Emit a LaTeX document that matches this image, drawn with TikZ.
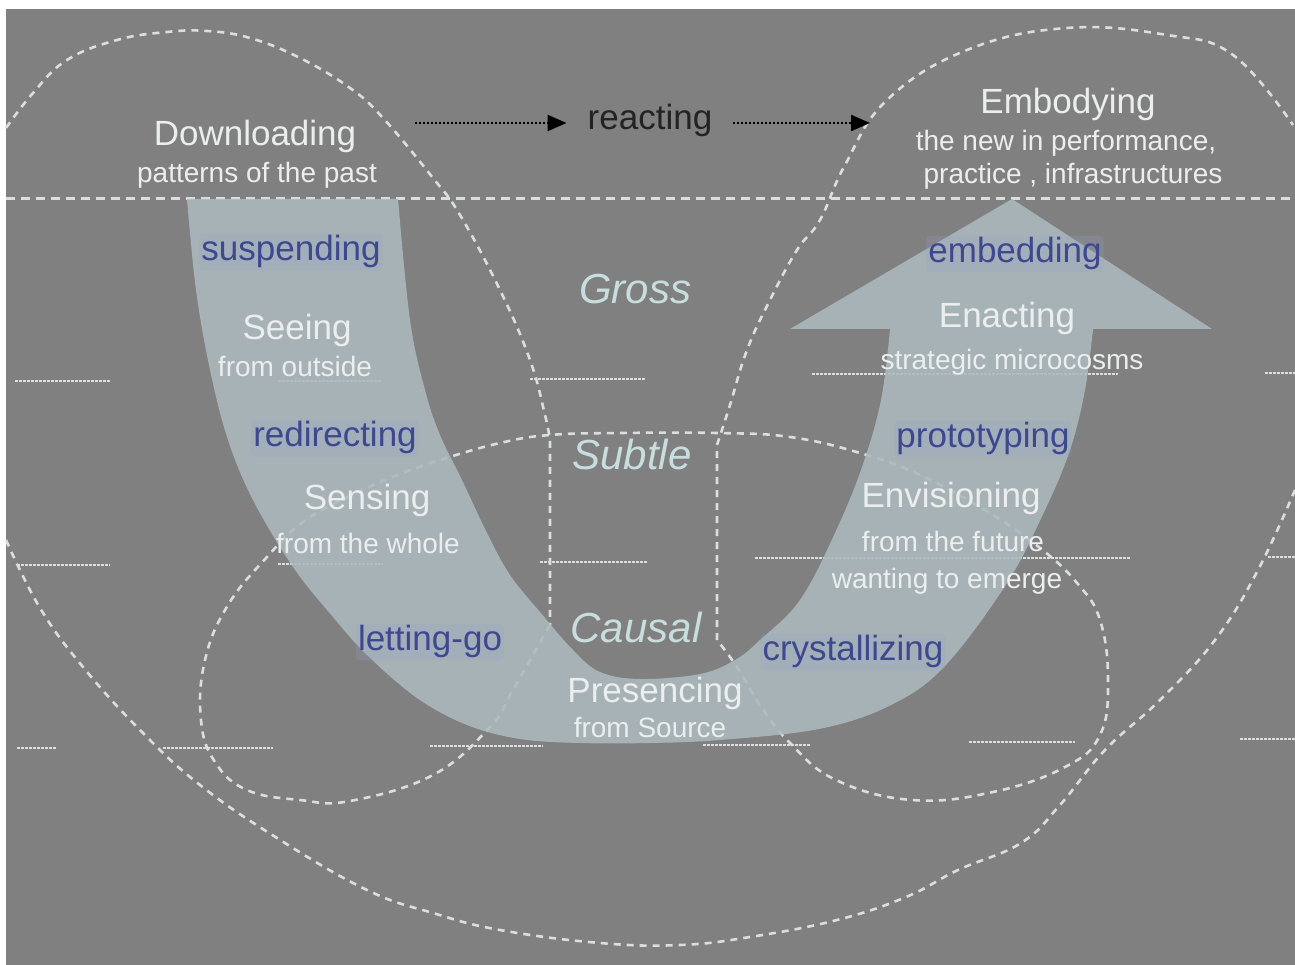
\documentclass[tikz,border=0pt]{standalone}
\usepackage{fontspec}
\setmainfont{Liberation Sans}
\usetikzlibrary{arrows.meta}
\definecolor{bg}{RGB}{128,128,128}
\definecolor{bandfill}{RGB}{172,186,189}
\definecolor{dashline}{RGB}{218,222,222}
\definecolor{lab}{RGB}{236,238,238}
\definecolor{verbtext}{RGB}{62,72,142}
\definecolor{verbglow}{RGB}{150,162,200}
\definecolor{leveltext}{RGB}{200,222,222}
\definecolor{reacttext}{RGB}{35,35,35}

\begin{document}
\begin{tikzpicture}[x=1pt,y=-1pt,
  every node/.style={inner sep=0pt},
  txt/.style={yshift=-4pt},
  stage/.style={txt, font=\fontsize{35}{38}\selectfont, text=lab,
    text height=25pt, text depth=7.5pt},
  sub/.style={txt, font=\fontsize{28}{30}\selectfont, text=lab,
    text height=20pt, text depth=6pt},
  verb/.style={txt, font=\fontsize{35}{38}\selectfont, text=verbtext,
    text height=25pt, text depth=7.5pt, rounded corners=4pt,
    fill=verbglow, fill opacity=0.22, text opacity=1, inner sep=2pt},
  level/.style={txt, font=\fontsize{42}{46}\selectfont\itshape, text=leveltext,
    text height=30pt, text depth=9pt},
  outline/.style={draw=dashline, line width=2.6pt, dash pattern=on 7pt off 6pt},
  rule/.style={draw=dashline, line width=1.6pt, dash pattern=on 2.5pt off 1.5pt},
  flow/.style={draw=black, line width=2.4pt, dash pattern=on 2pt off 2pt,
    -{Triangle[length=19pt,width=16pt]}},
]
% canvas
\fill[white] (0,0) rectangle (1295,965);
\fill[bg] (6,9) rectangle (1295,965);
\useasboundingbox (0,0) rectangle (1295,965);

% boundary between the upper field and the U
\draw[outline, line width=3pt, dash pattern=on 9pt off 6pt] (6,199) -- (1295,199);

% dashed outlines of the fields
\draw[outline] plot[smooth, tension=0.7] coordinates {(6,128) (33,93) (67,60) (117,40)
  (167,32) (207,31) (250,38) (300,58) (350,88) (383,118) (433,178) (460,215)
  (500,290) (530,360) (545,415) (550,440)} -- (550,625);
\draw[outline] plot[smooth, tension=0.7] coordinates {(550,625) (530,660) (510,695)
  (490,727) (433,775) (350,801) (300,800) (247,790) (215,762) (201,720) (205,660)
  (228,605) (267,557) (303,522) (350,496) (395,476) (440,460) (500,443) (550,435)
  (620,433) (717,433) (790,437) (860,453) (920,475) (985,510) (1040,548) (1077,583)
  (1100,620) (1108,680) (1100,735) (1065,767) (993,792) (912,800) (836,780) (790,743)
  (760,705) (737,667) (717,640)};
\draw[outline] (717,640) -- (717,445) plot[smooth, tension=0.7] coordinates {(717,445)
  (730,405) (747,350) (770,300) (797,250) (820,220) (845,165) (887,100) (967,50)
  (1067,28) (1167,35) (1233,55) (1293,125)};
\draw[outline] plot[smooth, tension=0.7] coordinates {(6,540) (40,608) (83,667)
  (140,730) (200,785) (277,838) (367,890) (433,913) (500,930) (600,943) (680,945)
  (750,937) (837,920) (906,897) (958,870) (1021,843) (1060,805) (1105,750)
  (1160,700) (1215,640) (1258,570) (1295,490)};

% short level rules
\foreach \a/\b/\y in {15/110/381, 278/382/381, 530/645/379, 812/1118/374, 1265/1295/373,
  17/110/565, 278/383/564, 540/647/562, 755/1130/558, 1268/1295/557,
  17/57/748, 163/273/748, 430/543/746, 703/810/745, 969/1075/742, 1240/1295/739}
  \draw[rule] (\a,\y) -- (\b,\y);

% the U-shaped band with its arrow head
\fill[bandfill, fill opacity=0.88] plot[smooth, tension=0.6] coordinates {(187,199)
  (196,290) (210,370) (228,440) (253,500) (293,567) (333,617) (367,655) (417,698)
  (467,725) (520,739) (580,743) (650,743) (720,740) (819,729) (889,706) (944,667)
  (1007,583) (1045,510) (1070,450) (1085,390) (1093,329)}
  -- (1212,329) -- (1012,199) -- (790,329) -- (890,329)
  -- plot[smooth, tension=0.6] coordinates {(890,329) (881,400) (862,467) (835,533)
  (800,600) (760,640) (735,660) (700,674) (640,679) (600,672) (573,650) (540,612)
  (510,575) (487,533) (462,480) (440,435) (425,390) (410,320) (398,199)} -- cycle;

% upper row
\node[stage] (dl) at (255,133) {Downloading};
\node[sub] (dlsub) at (257,172) {patterns of the past};
\node[txt, font=\fontsize{35}{38}\selectfont, text=reacttext,
  text height=25pt, text depth=7.5pt] (react) at (650,117) {reacting};
\node[stage] (emb) at (1068,101) {Embodying};
\node[sub] (embsub1) at (1066,140) {the new in performance,};
\node[sub] (embsub2) at (1073,173) {practice , infrastructures};
\coordinate (f1s) at (415,123);
\coordinate (f2e) at (870,123);
\draw[flow, shorten >=21pt] (f1s) -- (react.west |- f1s);
\draw[flow, shorten <=21pt] (react.east |- f2e) -- (f2e);

% left arm
\node[verb] (suspend) at (291,248) {suspending};
\node[stage] (see) at (297,327) {Seeing};
\node[sub] (seesub) at (295,365) {from outside};
\node[verb] (redirect) at (335,434) {redirecting};
\node[stage] (sense) at (367,497) {Sensing};
\node[sub] (sensesub) at (368,542) {from the whole};
\node[verb] (letgo) at (430,638) {letting-go};

% bottom
\node[stage] (presence) at (655,690) {Presencing};
\node[sub] (presencesub) at (650,726) {from Source};

% right arm
\node[verb] (crystal) at (853,648) {crystallizing};
\node[stage] (envision) at (951,495) {Envisioning};
\node[sub] (envisionsub1) at (953,540) {from the future};
\node[sub] (envisionsub2) at (947,577) {wanting to emerge};
\node[verb] (proto) at (983,435) {prototyping};
\node[stage] (enact) at (1007,315) {Enacting};
\node[sub] (enactsub) at (1012,359) {strategic microcosms};
\node[verb] (embed) at (1015,250) {embedding};

% levels
\node[level] (gross) at (635,289) {Gross};
\node[level] (subtle) at (632,455) {Subtle};
\node[level] (causal) at (636,628) {Causal};
\end{tikzpicture}
\end{document}
